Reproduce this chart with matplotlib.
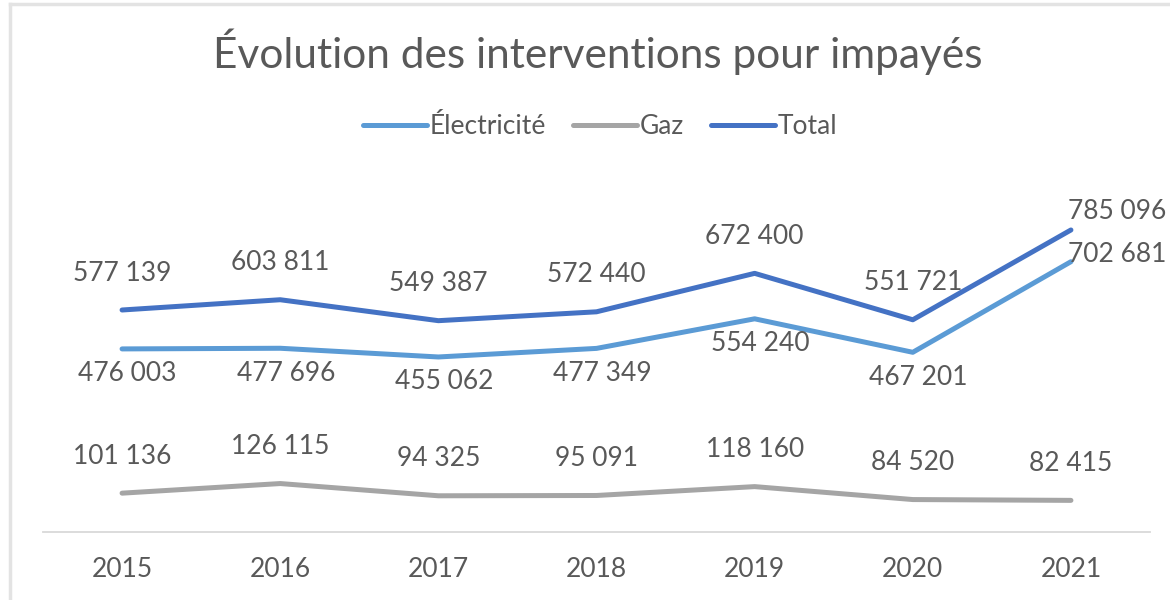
import matplotlib.pyplot as plt
from matplotlib.lines import Line2D

# Data
years = ['2015', '2016', '2017', '2018', '2019', '2020', '2021']
electricite = [476003, 477696, 455062, 477349, 554240, 467201, 702681]
gaz = [101136, 126115, 94325, 95091, 118160, 84520, 82415]
total = [577139, 603811, 549387, 572440, 672400, 551721, 785096]

c_elec = '#5B9BD5'
c_gaz = '#A5A5A5'
c_total = '#4472C4'
c_text = '#595959'

plt.rcParams['font.family'] = ['Lato', 'DejaVu Sans']

def fmt(v):
    return f"{v:,}".replace(',', ' ')

fig = plt.figure(figsize=(11.7, 6), dpi=100)
ax = fig.add_axes([43 / 1170, 0.1132, 1107 / 1170, 0.5772])

x = list(range(len(years)))
ax.plot(x, electricite, color=c_elec, lw=3.6, solid_capstyle='round', solid_joinstyle='round', label='Électricité')
ax.plot(x, gaz, color=c_gaz, lw=3.6, solid_capstyle='round', solid_joinstyle='round', label='Gaz')
ax.plot(x, total, color=c_total, lw=3.6, solid_capstyle='round', solid_joinstyle='round', label='Total')

ax.set_xlim(-0.5, 6.5)
ax.set_ylim(0, 900000)

# data labels
fs = 19
last = len(years) - 1
for i, v in enumerate(total):
    if i == last:
        ax.annotate(fmt(v), (i, v), xytext=(-2, 13), textcoords='offset points',
                    ha='left', va='center', fontsize=fs, color=c_text)
    else:
        ax.annotate(fmt(v), (i, v), xytext=(0, 26.6), textcoords='offset points',
                    ha='center', va='center', fontsize=fs, color=c_text)
for i, v in enumerate(electricite):
    if i == last:
        ax.annotate(fmt(v), (i, v), xytext=(-2, 5), textcoords='offset points',
                    ha='left', va='center', fontsize=fs, color=c_text)
    else:
        ax.annotate(fmt(v), (i, v), xytext=(4, -18), textcoords='offset points',
                    ha='center', va='center', fontsize=fs, color=c_text)
for i, v in enumerate(gaz):
    ax.annotate(fmt(v), (i, v), xytext=(0, 26.6), textcoords='offset points',
                ha='center', va='center', fontsize=fs, color=c_text)

for s in ['top', 'right', 'left']:
    ax.spines[s].set_visible(False)
ax.spines['bottom'].set_color('#D9D9D9')
ax.spines['bottom'].set_linewidth(1.3)
ax.set_yticks([])
ax.set_xticks(x)
ax.set_xticklabels(years)
ax.tick_params(axis='x', length=0, pad=18, labelsize=fs, labelcolor=c_text)

fig.text(0.5107, 1 - 68 / 600, 'Évolution des interventions pour impayés',
         ha='center', va='baseline', fontsize=30.5, color=c_text)

fig.legend(loc='center', bbox_to_anchor=(0.513, 1 - 127 / 600), ncol=3, frameon=False,
           fontsize=19, labelcolor=c_text, handlelength=2.4, handletextpad=0.1,
           columnspacing=1.05)

# chart border (left & top)
fig.add_artist(Line2D([10 / 1170, 10 / 1170], [0, 1 - 4 / 600], transform=fig.transFigure,
                      color='#E3E3E3', lw=2.5))
fig.add_artist(Line2D([10 / 1170, 1], [1 - 4 / 600, 1 - 4 / 600], transform=fig.transFigure,
                      color='#E3E3E3', lw=2.5))

fig.savefig('out.png', dpi=100, facecolor='white')
